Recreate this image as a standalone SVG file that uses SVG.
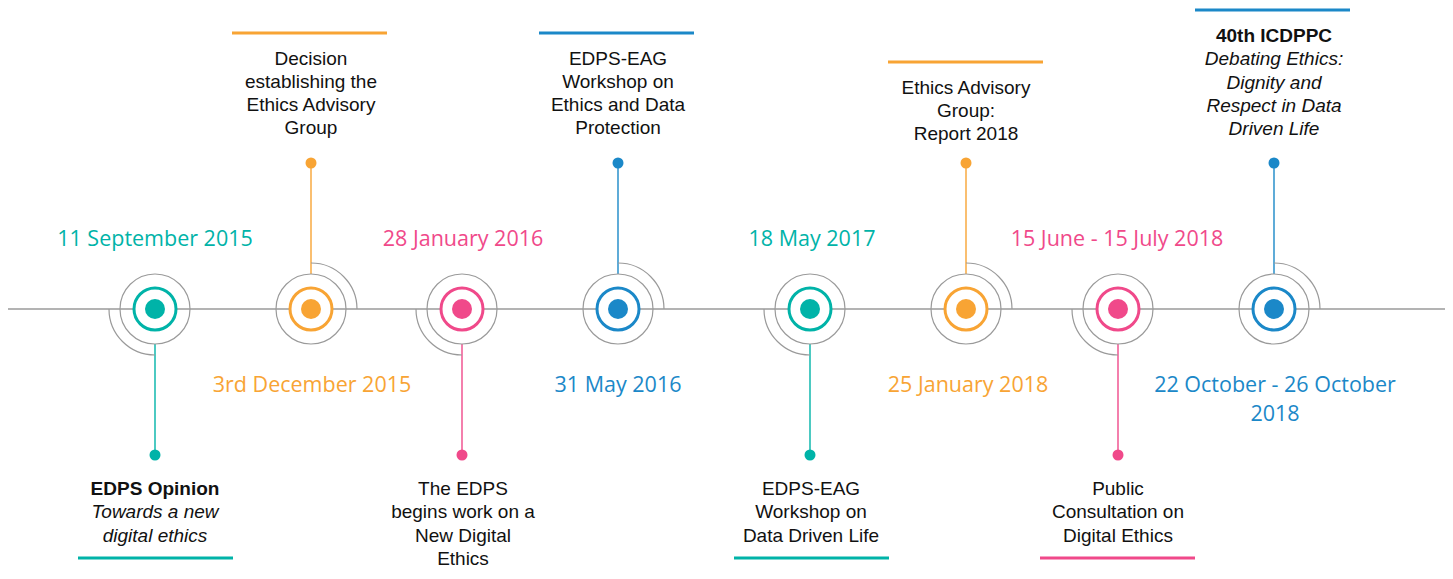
<svg xmlns="http://www.w3.org/2000/svg" width="1453" height="579" viewBox="0 0 1453 579">
<style>
.axis{stroke:#9a9a9a;stroke-width:1.3;fill:none}
.ring{fill:none;stroke:#9a9a9a;stroke-width:1.2}
.arc{fill:none;stroke:#9a9a9a;stroke-width:1.2}
.t{font-family:"Liberation Sans",Arial,sans-serif;font-size:19px;fill:#111;text-anchor:middle}
.b{font-weight:bold}
.i{font-style:italic}
.d{font-family:"Open Sans","Noto Sans",sans-serif;font-size:21.5px;text-anchor:middle}
.teal{fill:#00b3a8}.orange{fill:#f8a434}.pink{fill:#f0498a}.blue{fill:#1b88c8}
.s-teal{stroke:#00b3a8}.s-orange{stroke:#f8a434}.s-pink{stroke:#f0498a}.s-blue{stroke:#1b88c8}
.stem{stroke-width:1.4;fill:none}
.bar{stroke-width:3;fill:none}
.cr{fill:#fff;stroke-width:3}
</style>
<rect width="1453" height="579" fill="#fff"/>
<g id="connectors">
<line class="axis" x1="8" y1="309" x2="1445" y2="309"/>
<line class="stem s-teal" x1="155" y1="344" x2="155" y2="455"/>
<line class="stem s-orange" x1="311" y1="274" x2="311" y2="163"/>
<line class="stem s-pink" x1="462" y1="344" x2="462" y2="455"/>
<line class="stem s-blue" x1="618" y1="274" x2="618" y2="163"/>
<line class="stem s-teal" x1="810" y1="344" x2="810" y2="455"/>
<line class="stem s-orange" x1="966" y1="274" x2="966" y2="163"/>
<line class="stem s-pink" x1="1118" y1="344" x2="1118" y2="455"/>
<line class="stem s-blue" x1="1274" y1="274" x2="1274" y2="163"/>
</g>
<g id="node1">
<circle class="ring" cx="155" cy="309" r="35"/>
<path class="arc" d="M109 309 A46 46 0 0 0 155 355"/>
<circle class="cr s-teal" cx="155" cy="309" r="21"/>
<circle class="teal" cx="155" cy="309" r="10"/>
<circle class="teal" cx="155" cy="455" r="5.5"/>
<text class="d teal" x="155" y="246">11 September 2015</text>
<text class="t b" x="155" y="495">EDPS Opinion</text>
<text class="t i" x="155" y="518">Towards a new</text>
<text class="t i" x="155" y="542">digital ethics</text>
<line class="bar s-teal" x1="78" y1="558" x2="233" y2="558"/>
</g>
<g id="node2">
<circle class="ring" cx="311" cy="309" r="35"/>
<path class="arc" d="M311 263 A46 46 0 0 1 357 309"/>
<circle class="cr s-orange" cx="311" cy="309" r="21"/>
<circle class="orange" cx="311" cy="309" r="10"/>
<circle class="orange" cx="311" cy="163" r="5.5"/>
<text class="d orange" x="312" y="392">3rd December 2015</text>
<line class="bar s-orange" x1="232" y1="33" x2="387" y2="33"/>
<text class="t" x="311" y="65">Decision</text>
<text class="t" x="311" y="88">establishing the</text>
<text class="t" x="311" y="111">Ethics Advisory</text>
<text class="t" x="311" y="134">Group</text>
</g>
<g id="node3">
<circle class="ring" cx="462" cy="309" r="35"/>
<path class="arc" d="M416 309 A46 46 0 0 0 462 355"/>
<circle class="cr s-pink" cx="462" cy="309" r="21"/>
<circle class="pink" cx="462" cy="309" r="10"/>
<circle class="pink" cx="462" cy="455" r="5.5"/>
<text class="d pink" x="463" y="246">28 January 2016</text>
<text class="t" x="463" y="495">The EDPS</text>
<text class="t" x="463" y="518">begins work on a</text>
<text class="t" x="463" y="542">New Digital</text>
<text class="t" x="463" y="565">Ethics</text>
</g>
<g id="node4">
<circle class="ring" cx="618" cy="309" r="35"/>
<path class="arc" d="M618 263 A46 46 0 0 1 664 309"/>
<circle class="cr s-blue" cx="618" cy="309" r="21"/>
<circle class="blue" cx="618" cy="309" r="10"/>
<circle class="blue" cx="618" cy="163" r="5.5"/>
<text class="d blue" x="618" y="392">31 May 2016</text>
<line class="bar s-blue" x1="539" y1="33" x2="694" y2="33"/>
<text class="t" x="618" y="65">EDPS-EAG</text>
<text class="t" x="618" y="88">Workshop on</text>
<text class="t" x="618" y="111">Ethics and Data</text>
<text class="t" x="618" y="134">Protection</text>
</g>
<g id="node5">
<circle class="ring" cx="810" cy="309" r="35"/>
<path class="arc" d="M764 309 A46 46 0 0 0 810 355"/>
<circle class="cr s-teal" cx="810" cy="309" r="21"/>
<circle class="teal" cx="810" cy="309" r="10"/>
<circle class="teal" cx="810" cy="455" r="5.5"/>
<text class="d teal" x="812" y="246">18 May 2017</text>
<text class="t" x="811" y="495">EDPS-EAG</text>
<text class="t" x="811" y="518">Workshop on</text>
<text class="t" x="811" y="542">Data Driven Life</text>
<line class="bar s-teal" x1="734" y1="558" x2="889" y2="558"/>
</g>
<g id="node6">
<circle class="ring" cx="966" cy="309" r="35"/>
<path class="arc" d="M966 263 A46 46 0 0 1 1012 309"/>
<circle class="cr s-orange" cx="966" cy="309" r="21"/>
<circle class="orange" cx="966" cy="309" r="10"/>
<circle class="orange" cx="966" cy="163" r="5.5"/>
<text class="d orange" x="968" y="392">25 January 2018</text>
<line class="bar s-orange" x1="888" y1="62" x2="1043" y2="62"/>
<text class="t" x="966" y="94">Ethics Advisory</text>
<text class="t" x="966" y="117">Group:</text>
<text class="t" x="966" y="140">Report 2018</text>
</g>
<g id="node7">
<circle class="ring" cx="1118" cy="309" r="35"/>
<path class="arc" d="M1072 309 A46 46 0 0 0 1118 355"/>
<circle class="cr s-pink" cx="1118" cy="309" r="21"/>
<circle class="pink" cx="1118" cy="309" r="10"/>
<circle class="pink" cx="1118" cy="455" r="5.5"/>
<text class="d pink" x="1117" y="246">15 June - 15 July 2018</text>
<text class="t" x="1118" y="495">Public</text>
<text class="t" x="1118" y="518">Consultation on</text>
<text class="t" x="1118" y="542">Digital Ethics</text>
<line class="bar s-pink" x1="1040" y1="558" x2="1195" y2="558"/>
</g>
<g id="node8">
<circle class="ring" cx="1274" cy="309" r="35"/>
<path class="arc" d="M1274 263 A46 46 0 0 1 1320 309"/>
<circle class="cr s-blue" cx="1274" cy="309" r="21"/>
<circle class="blue" cx="1274" cy="309" r="10"/>
<circle class="blue" cx="1274" cy="163" r="5.5"/>
<text class="d blue" x="1275" y="392">22 October - 26 October</text>
<text class="d blue" x="1275" y="421">2018</text>
<line class="bar s-blue" x1="1195" y1="10" x2="1350" y2="10"/>
<text class="t b" x="1274" y="42">40th ICDPPC</text>
<text class="t i" x="1274" y="65">Debating Ethics:</text>
<text class="t i" x="1274" y="89">Dignity and</text>
<text class="t i" x="1274" y="112">Respect in Data</text>
<text class="t i" x="1274" y="135">Driven Life</text>
</g>
</svg>
